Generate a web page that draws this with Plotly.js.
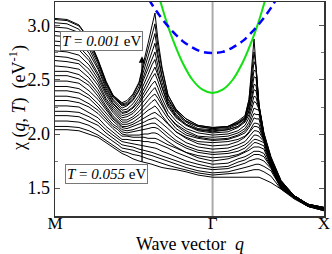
<!DOCTYPE html>
<html>
<head>
<meta charset="utf-8">
<script src="https://cdn.plot.ly/plotly-3.0.1.min.js"></script>
<style>html,body{margin:0;padding:0;background:#fff;}#chart{width:332px;height:254px;}</style>
</head>
<body>
<div id="chart"></div>
<script>
// Wave-vector grid along M - Gamma - X (M = 0, Gamma = sqrt2, X = 1 + sqrt2)
const qGrid = [0.000, 0.108, 0.215, 0.305, 0.386, 0.458, 0.520, 0.565, 0.601, 0.646, 0.700, 0.754, 0.799, 0.835, 0.870, 0.897, 0.924, 0.960, 1.014, 1.086, 1.176, 1.283, 1.414, 1.552, 1.642, 1.705, 1.741, 1.768, 1.786, 1.804, 1.831, 1.875, 1.938, 2.028, 2.145, 2.270, 2.414];
const tickQ = [0, 1.414, 2.414];
const tickNames = ['M', 'Γ', 'X'];

// chi(q,T) curves, lowest T (0.001 eV) first, highest T (0.055 eV) last
const chi01 = [3.07,3.06,3.01,2.88,2.69,2.49,2.36,2.32,2.29,2.31,2.37,2.48,2.67,2.84,3.00,3.12,2.87,2.62,2.36,2.23,2.14,2.08,2.06,2.07,2.11,2.15,2.32,2.67,2.88,2.63,2.27,2.01,1.79,1.57,1.43,1.35,1.32];
const chi02 = [3.06,3.05,3.00,2.88,2.68,2.48,2.36,2.31,2.28,2.29,2.36,2.47,2.64,2.78,2.92,3.02,2.81,2.60,2.36,2.22,2.14,2.08,2.06,2.07,2.12,2.17,2.32,2.59,2.76,2.62,2.26,2.00,1.78,1.57,1.43,1.35,1.32];
const chi03 = [3.03,3.02,2.97,2.85,2.67,2.47,2.35,2.31,2.27,2.28,2.34,2.44,2.59,2.72,2.84,2.93,2.74,2.54,2.32,2.20,2.12,2.07,2.05,2.06,2.10,2.14,2.28,2.52,2.67,2.62,2.26,2.00,1.78,1.56,1.43,1.35,1.32];
const chi04 = [2.99,2.98,2.94,2.82,2.65,2.46,2.34,2.30,2.26,2.27,2.32,2.41,2.54,2.65,2.76,2.84,2.70,2.53,2.33,2.21,2.12,2.07,2.05,2.07,2.10,2.16,2.28,2.47,2.59,2.58,2.26,1.99,1.77,1.56,1.43,1.35,1.32];
const chi05 = [2.95,2.94,2.90,2.79,2.62,2.44,2.32,2.28,2.24,2.26,2.31,2.40,2.51,2.61,2.70,2.76,2.63,2.48,2.30,2.18,2.11,2.05,2.04,2.05,2.09,2.14,2.25,2.42,2.53,2.52,2.25,1.99,1.77,1.56,1.43,1.35,1.32];
const chi06 = [2.91,2.90,2.86,2.75,2.60,2.42,2.31,2.26,2.22,2.23,2.28,2.36,2.46,2.55,2.64,2.69,2.57,2.43,2.27,2.16,2.09,2.04,2.03,2.04,2.07,2.12,2.21,2.37,2.46,2.45,2.24,1.98,1.76,1.55,1.43,1.35,1.31];
const chi07 = [2.86,2.85,2.81,2.71,2.56,2.40,2.29,2.24,2.20,2.21,2.25,2.33,2.42,2.50,2.57,2.62,2.54,2.43,2.28,2.17,2.09,2.04,2.02,2.04,2.07,2.13,2.22,2.33,2.41,2.40,2.24,1.98,1.75,1.55,1.43,1.35,1.31];
const chi08 = [2.82,2.81,2.78,2.68,2.54,2.38,2.28,2.23,2.19,2.20,2.24,2.30,2.38,2.45,2.52,2.56,2.49,2.38,2.25,2.15,2.08,2.03,2.01,2.02,2.06,2.11,2.18,2.28,2.35,2.34,2.23,1.97,1.75,1.55,1.42,1.34,1.31];
const chi09 = [2.77,2.76,2.73,2.64,2.51,2.36,2.26,2.21,2.17,2.18,2.21,2.28,2.35,2.41,2.46,2.49,2.43,2.33,2.21,2.12,2.05,2.01,1.99,2.00,2.03,2.08,2.15,2.24,2.30,2.29,2.23,1.97,1.74,1.54,1.42,1.34,1.31];
const chi10 = [2.72,2.71,2.68,2.60,2.48,2.33,2.24,2.19,2.15,2.16,2.19,2.25,2.31,2.36,2.40,2.43,2.37,2.28,2.17,2.09,2.03,1.98,1.97,1.98,2.01,2.05,2.11,2.19,2.24,2.23,2.22,1.96,1.74,1.54,1.42,1.34,1.31];
const chi11 = [2.68,2.67,2.65,2.56,2.45,2.31,2.22,2.17,2.13,2.13,2.16,2.21,2.26,2.31,2.35,2.37,2.33,2.26,2.17,2.08,2.01,1.97,1.95,1.96,1.99,2.03,2.08,2.15,2.19,2.18,2.18,1.96,1.74,1.54,1.42,1.34,1.31];
const chi12 = [2.63,2.62,2.60,2.52,2.41,2.29,2.20,2.15,2.11,2.11,2.14,2.18,2.23,2.27,2.30,2.32,2.28,2.22,2.14,2.05,1.99,1.96,1.94,1.95,1.98,2.01,2.06,2.11,2.15,2.14,2.14,1.95,1.73,1.53,1.42,1.34,1.31];
const chi13 = [2.58,2.58,2.55,2.48,2.38,2.26,2.17,2.13,2.09,2.09,2.11,2.15,2.19,2.22,2.24,2.26,2.23,2.17,2.10,2.02,1.97,1.93,1.92,1.93,1.95,1.98,2.02,2.07,2.10,2.10,2.09,1.95,1.73,1.53,1.42,1.34,1.31];
const chi14 = [2.54,2.54,2.51,2.45,2.35,2.24,2.15,2.11,2.07,2.07,2.09,2.12,2.15,2.17,2.19,2.20,2.18,2.15,2.09,2.02,1.96,1.91,1.89,1.90,1.93,1.97,2.01,2.04,2.07,2.07,2.06,1.94,1.72,1.53,1.42,1.34,1.30];
const chi15 = [2.49,2.49,2.47,2.40,2.32,2.22,2.14,2.10,2.06,2.05,2.07,2.09,2.11,2.13,2.14,2.15,2.13,2.10,2.05,1.98,1.92,1.88,1.86,1.87,1.90,1.93,1.97,2.01,2.03,2.03,2.02,1.94,1.72,1.52,1.42,1.34,1.30];
const chi16 = [2.44,2.44,2.42,2.36,2.28,2.19,2.12,2.08,2.04,2.03,2.04,2.06,2.08,2.09,2.10,2.10,2.08,2.05,2.00,1.94,1.89,1.85,1.83,1.84,1.87,1.90,1.93,1.97,1.99,1.99,1.98,1.93,1.71,1.52,1.42,1.34,1.30];
const chi17 = [2.40,2.40,2.38,2.33,2.25,2.16,2.09,2.06,2.02,2.01,2.02,2.03,2.04,2.05,2.06,2.06,2.05,2.02,1.97,1.92,1.87,1.83,1.81,1.82,1.84,1.87,1.90,1.93,1.95,1.95,1.94,1.92,1.71,1.52,1.42,1.34,1.30];
const chi18 = [2.35,2.35,2.33,2.28,2.22,2.14,2.07,2.04,2.00,1.99,1.99,1.99,2.00,2.00,2.01,2.01,2.00,1.97,1.93,1.88,1.83,1.80,1.78,1.79,1.81,1.84,1.87,1.90,1.92,1.92,1.91,1.89,1.70,1.51,1.42,1.34,1.30];
const chi19 = [2.31,2.31,2.29,2.25,2.19,2.11,2.05,2.01,1.98,1.98,1.97,1.97,1.97,1.96,1.96,1.96,1.95,1.93,1.90,1.87,1.83,1.78,1.75,1.77,1.80,1.83,1.85,1.87,1.88,1.88,1.88,1.86,1.70,1.51,1.42,1.34,1.30];
const chi20 = [2.26,2.26,2.25,2.20,2.15,2.07,2.02,1.98,1.95,1.95,1.94,1.94,1.93,1.93,1.92,1.92,1.91,1.89,1.87,1.83,1.79,1.75,1.72,1.73,1.77,1.79,1.81,1.83,1.84,1.84,1.84,1.82,1.69,1.51,1.41,1.33,1.30];
const chi21 = [2.21,2.21,2.20,2.16,2.11,2.04,1.99,1.96,1.93,1.92,1.91,1.90,1.89,1.88,1.88,1.87,1.86,1.84,1.82,1.79,1.75,1.72,1.69,1.70,1.74,1.76,1.78,1.80,1.81,1.81,1.81,1.79,1.69,1.50,1.41,1.33,1.30];
const chi22 = [2.17,2.17,2.16,2.12,2.08,2.01,1.96,1.93,1.90,1.89,1.88,1.86,1.85,1.84,1.83,1.82,1.81,1.80,1.78,1.75,1.72,1.69,1.67,1.68,1.71,1.73,1.75,1.76,1.77,1.77,1.77,1.75,1.68,1.50,1.41,1.33,1.30];
const chi23 = [2.12,2.12,2.11,2.08,2.03,1.98,1.93,1.90,1.87,1.86,1.85,1.83,1.82,1.81,1.80,1.79,1.78,1.77,1.75,1.72,1.69,1.66,1.64,1.65,1.67,1.69,1.70,1.71,1.72,1.72,1.72,1.70,1.66,1.50,1.41,1.33,1.29];
const chi24 = [2.07,2.07,2.06,2.03,1.99,1.94,1.90,1.87,1.84,1.83,1.81,1.80,1.78,1.77,1.76,1.75,1.74,1.73,1.71,1.69,1.67,1.64,1.62,1.63,1.64,1.65,1.66,1.67,1.67,1.67,1.67,1.65,1.61,1.49,1.41,1.33,1.29];
const chi25 = [2.04,2.04,2.03,2.00,1.97,1.92,1.88,1.85,1.82,1.80,1.77,1.75,1.74,1.73,1.72,1.71,1.70,1.69,1.68,1.67,1.65,1.62,1.60,1.60,1.60,1.60,1.60,1.60,1.60,1.60,1.60,1.58,1.55,1.49,1.40,1.33,1.29];
const chiCurves = [chi01,chi02,chi03,chi04,chi05,chi06,chi07,chi08,chi09,chi10,chi11,chi12,chi13,chi14,chi15,chi16,chi17,chi18,chi19,chi20,chi21,chi22,chi23,chi24,chi25];

// green solid curve
const greenQ = [0.920, 0.965, 1.010, 1.055, 1.145, 1.235, 1.324, 1.414, 1.504, 1.593, 1.683, 1.773, 1.818, 1.863, 1.908];
const greenV = [3.32, 3.16, 3.01, 2.88, 2.66, 2.50, 2.41, 2.38, 2.41, 2.50, 2.66, 2.88, 3.01, 3.16, 3.32];
// blue dashed curve
const blueQ = [0.786, 0.876, 0.965, 1.055, 1.145, 1.235, 1.324, 1.414, 1.504, 1.593, 1.683, 1.773, 1.863, 1.952, 2.042];
const blueV = [3.35, 3.19, 3.06, 2.95, 2.86, 2.80, 2.76, 2.75, 2.76, 2.80, 2.86, 2.95, 3.06, 3.19, 3.35];

const yTicks = [1.5, 2.0, 2.5, 3.0];
const yTickText = ['1.5', '2.0', '2.5', '3.0'];

const traces = chiCurves.map(c => ({
  x: qGrid, y: c, mode: 'lines', type: 'scatter', hoverinfo: 'skip',
  line: {color: '#000', width: 1}
}));
traces.push({x: greenQ, y: greenV, mode: 'lines', type: 'scatter', line: {color: '#11e011', width: 2, shape: 'spline'}});
traces.push({x: blueQ, y: blueV, mode: 'lines', type: 'scatter', line: {color: '#0000ff', width: 2.5, dash: '8px,5px', shape: 'spline'}});

const serif = 'Liberation Serif, Times New Roman, serif';
const layout = {
  width: 332, height: 254,
  margin: {l: 55, r: 8, t: 2, b: 38},
  paper_bgcolor: '#fff', plot_bgcolor: '#fff',
  showlegend: false,
  font: {family: serif, size: 16, color: '#000'},
  xaxis: {
    range: [0, 2.414], tickvals: tickQ, ticktext: tickNames, ticks: '',
    ticklabelstandoff: -9,
    showgrid: false, zeroline: false, showline: true, linecolor: '#333', linewidth: 1.5, mirror: true,
    tickfont: {family: serif, size: 17}
  },
  yaxis: {
    range: [1.241, 3.222], tickvals: yTicks, ticktext: yTickText,
    ticks: 'inside', ticklen: 5, tickcolor: '#555', tickwidth: 1,
    minor: {dtick: 0.25, tick0: 0, ticks: 'inside', ticklen: 3, tickcolor: '#777'},
    showgrid: false, zeroline: false, showline: true, linecolor: '#333', linewidth: 1.5, mirror: 'ticks',
    tickfont: {family: serif, size: 18}
  },
  shapes: [{type: 'line', xref: 'x', yref: 'paper', x0: 1.414, x1: 1.414, y0: 0, y1: 1, layer: 'below', line: {color: '#aaa', width: 2}}],
  annotations: [
    {x: 0.5, y: 0, xref: 'paper', yref: 'paper', yanchor: 'top', yshift: -16, text: 'Wave vector  <i>q</i>', showarrow: false, font: {family: serif, size: 18}},
    {x: 0, y: 0.5, xref: 'paper', yref: 'paper', xanchor: 'center', yanchor: 'middle', xshift: -37, yshift: 11, textangle: -90, text: 'χ (<i>q</i>, <i>T</i>)  (eV<sup>-1</sup>)', showarrow: false, font: {family: serif, size: 18}},
    {x: 0.781, y: 2.72, ax: 0.781, ay: 1.73, xref: 'x', yref: 'y', axref: 'x', ayref: 'y', text: '', showarrow: true, arrowhead: 2, arrowsize: 1, arrowwidth: 1.3, arrowcolor: '#000'},
    {x: 0.417, y: 2.861, xref: 'x', yref: 'y', text: '<i>T</i> = <i>0.001</i> eV', showarrow: false, bgcolor: '#fff', bordercolor: '#777', borderwidth: 1, borderpad: 1, font: {family: serif, size: 15}},
    {x: 0.458, y: 1.63, xref: 'x', yref: 'y', text: '<i>T</i> = <i>0.055</i> eV', showarrow: false, bgcolor: '#fff', bordercolor: '#777', borderwidth: 1, borderpad: 1, font: {family: serif, size: 15}}
  ]
};
Plotly.newPlot('chart', traces, layout, {staticPlot: true, displayModeBar: false});
</script>
</body>
</html>
